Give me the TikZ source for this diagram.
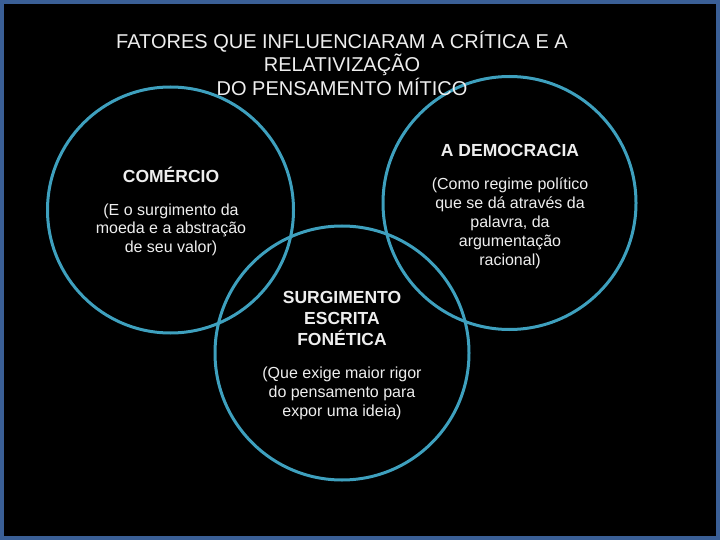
\documentclass[tikz,border=0pt]{standalone}
\usepackage{fontspec}
\setmainfont{Liberation Sans}
\definecolor{framecol}{RGB}{58,95,150}
\definecolor{ringcol}{RGB}{62,160,190}
\definecolor{txtcol}{RGB}{238,238,238}
\tikzset{
  ring/.style={circle, draw=ringcol, line width=3pt, inner sep=0pt},
  titletext/.style={text=txtcol, align=center, inner sep=0pt, font=\fontsize{20}{23.5}\selectfont},
  headtext/.style={text=txtcol, align=center, inner sep=0pt, font=\fontsize{17.5}{21}\selectfont\bfseries},
  bodytext/.style={text=txtcol, align=center, inner sep=0pt, font=\fontsize{16}{19}\selectfont},
}
\begin{document}
\begin{tikzpicture}[x=1pt,y=-1pt]
\useasboundingbox (0,0) rectangle (720,540);
\fill[black] (0,0) rectangle (720,540);
\draw[framecol, line width=4pt] (2,2) rectangle (718,538);
% circles
\node[ring, minimum size=246pt] (c1) at (170.5,210) {};
\node[ring, minimum size=253pt] (c2) at (509.5,203) {};
\node[ring, minimum size=254pt] (c3) at (342,353) {};
% title
\node[titletext] (title) at (342,63) {FATORES QUE INFLUENCIARAM A CRÍTICA E A\\RELATIVIZAÇÃO\\DO PENSAMENTO MÍTICO};
% left
\node[headtext, anchor=base] (h1) at (171,182.3) {COMÉRCIO};
\node[bodytext, font=\fontsize{16}{18.5}\selectfont] (b1) at (171,229.5) {(E o surgimento da\\moeda e a abstração\\de seu valor)};
% right
\node[headtext, anchor=base] (h2) at (510,156.3) {A DEMOCRACIA};
\node[bodytext] (b2) at (510,223.5) {(Como regime político\\que se dá através da\\palavra, da\\argumentação\\racional)};
% bottom
\node[headtext] (h3) at (342,318) {SURGIMENTO\\ESCRITA\\FONÉTICA};
\node[bodytext] (b3) at (342,393.5) {(Que exige maior rigor\\do pensamento para\\expor uma ideia)};
\end{tikzpicture}
\end{document}
